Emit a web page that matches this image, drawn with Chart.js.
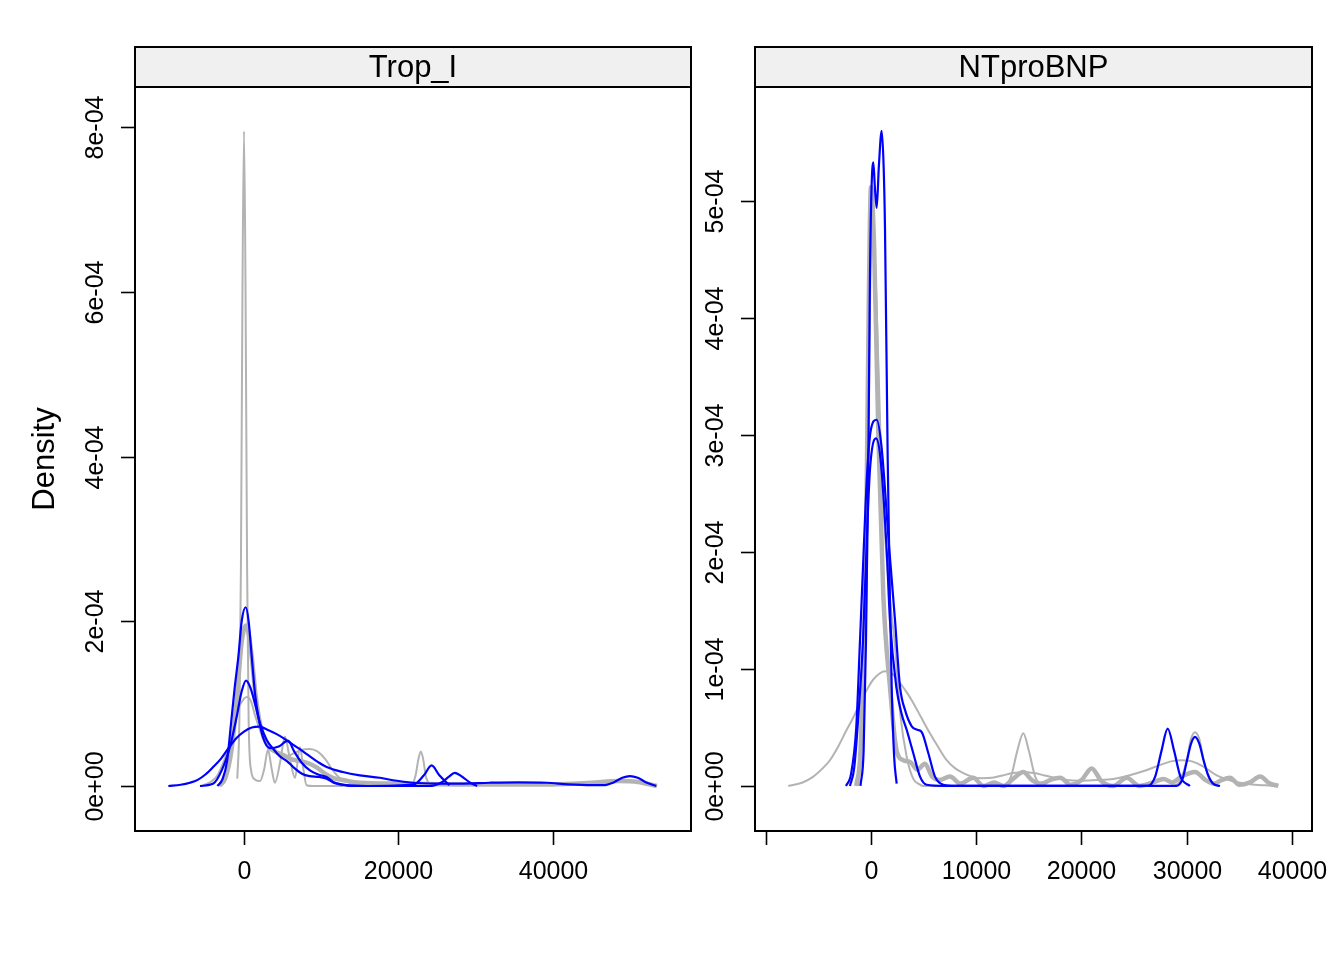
<!DOCTYPE html>
<html>
<head>
<meta charset="utf-8">
<script src="https://cdn.jsdelivr.net/npm/chart.js@4.4.1/dist/chart.umd.min.js"></script>
<style>
  html, body { margin: 0; padding: 0; background: #ffffff; }
  #wrap { position: relative; width: 1344px; height: 960px; }
  .panel { position: absolute; top: 0; height: 960px; }
  #leftPanel { left: 0; width: 700px; }
  #rightPanel { left: 700px; width: 644px; }
</style>
</head>
<body>
<div id="wrap">
  <div class="panel" id="leftPanel"><canvas id="tropChart" width="700" height="960"></canvas></div>
  <div class="panel" id="rightPanel"><canvas id="ntChart" width="644" height="960"></canvas></div>
</div>
<script>
const DENSITY_UNIT = 1e-4;

// ---- Trop_I panel ----
const tropXTicks = [0, 20000, 40000];
const tropXTickLabels = ['0', '20000', '40000'];
const tropYTicks = [0, 2e-4, 4e-4, 6e-4, 8e-4];
const tropYTickLabels = ['0e+00', '2e-04', '4e-04', '6e-04', '8e-04'];

const tropGrayNarrowX = [-870, -600, -400, -200, 0, 200, 400, 600, 900, 1400, 2070, 2600, 3100, 3600, 4000, 4700, 5300, 5900, 6600, 7250, 7700, 8100, 9000, 15000, 21600, 22200, 22600, 22900, 23200, 23600, 24300];
const tropGrayNarrowY = [0.09, 0.8, 2.65, 6.0, 7.95, 6.0, 2.65, 0.8, 0.2, 0.08, 0.06, 0.2, 0.44, 0.2, 0.04, 0.3, 0.6, 0.35, 0.1, 0.47, 0.2, 0.01, 0.0, 0.0, 0.01, 0.12, 0.33, 0.42, 0.33, 0.1, 0.01];

const tropGrayWideX = [-5700, -4500, -3500, -2500, -1600, -800, 0, 430, 900, 1420, 2200, 3370, 4500, 5520, 6500, 7500, 8500, 9500, 10500, 11500, 12500, 14000, 18000, 24000];
const tropGrayWideY = [0, 0.04, 0.12, 0.33, 0.6, 0.92, 1.06, 1.08, 1.03, 0.86, 0.65, 0.48, 0.38, 0.36, 0.4, 0.44, 0.45, 0.42, 0.33, 0.19, 0.09, 0.03, 0.0, 0.0];

const tropGrayThickX = [-3200, -2400, -1600, -900, -300, 300, 900, 1500, 2200, 3000, 4000, 5000, 6300, 7500, 8500, 9500, 10500, 11500, 13000, 15000, 20000, 30000, 40000, 45000, 48500, 51000, 53500];
const tropGrayThickY = [0, 0.1, 0.45, 1.1, 1.75, 1.95, 1.65, 1.1, 0.7, 0.5, 0.42, 0.38, 0.32, 0.3, 0.27, 0.22, 0.15, 0.1, 0.07, 0.04, 0.03, 0.02, 0.02, 0.04, 0.06, 0.05, 0.0];

const tropBlueTallX = [-3450, -2800, -2200, -1680, -1200, -730, -300, 220, 600, 1000, 1450, 1850, 2500, 3370, 4500, 5700, 6500, 7500, 8540, 9600, 10700, 11560, 13300, 16000, 22000, 23300, 24300, 25300, 26600];
const tropBlueTallY = [0, 0.08, 0.3, 0.76, 1.2, 1.57, 2.0, 2.17, 2.0, 1.57, 1.1, 0.85, 0.58, 0.46, 0.48, 0.55, 0.42, 0.28, 0.19, 0.14, 0.11, 0.05, 0.01, 0.0, 0.02, 0.13, 0.25, 0.13, 0.01];

const tropBlueMidX = [-5700, -3970, -2890, -1810, -950, -300, 260, 800, 1420, 2070, 2940, 3800, 4660, 5600, 6380, 7500, 8500, 9700, 10700, 11600, 12500, 14000, 24000, 25500, 26500, 27300, 28300, 29300, 30200];
const tropBlueMidY = [0, 0.03, 0.19, 0.48, 0.84, 1.15, 1.28, 1.2, 1.0, 0.76, 0.56, 0.45, 0.36, 0.3, 0.23, 0.15, 0.12, 0.11, 0.09, 0.04, 0.02, 0.0, 0.0, 0.04, 0.11, 0.16, 0.11, 0.04, 0.0];

const tropBlueBroadX = [-9800, -8200, -7000, -6000, -5000, -4000, -3000, -2000, -1000, 0, 1000, 2000, 3100, 4230, 5300, 6380, 7500, 8540, 9600, 10700, 12800, 15000, 17600, 19300, 21800, 25000, 28000, 31800, 35500, 39200, 42000, 45000, 46500, 47800, 49000, 50000, 51000, 52200, 53400];
const tropBlueBroadY = [0, 0.015, 0.04, 0.075, 0.14, 0.23, 0.33, 0.46, 0.58, 0.66, 0.71, 0.72, 0.68, 0.63, 0.57, 0.5, 0.43, 0.36, 0.29, 0.23, 0.17, 0.13, 0.1, 0.07, 0.04, 0.03, 0.03, 0.04, 0.045, 0.04, 0.02, 0.01, 0.01, 0.04, 0.1, 0.12, 0.1, 0.04, 0.0];

// ---- NTproBNP panel ----
const ntXTicks = [-10000, 0, 10000, 20000, 30000, 40000];
const ntXTickLabels = ['', '0', '10000', '20000', '30000', '40000'];
const ntYTicks = [0, 1e-4, 2e-4, 3e-4, 4e-4, 5e-4];
const ntYTickLabels = ['0e+00', '1e-04', '2e-04', '3e-04', '4e-04', '5e-04'];

const ntBlueDoubleX = [-1000, -700, -475, -250, -95, 50, 220, 380, 540, 750, 1015, 1200, 1330, 1585, 1800, 1965, 2200, 2440];
const ntBlueDoubleY = [0, 0.3, 1.24, 2.8, 4.38, 5.1, 5.33, 5.1, 4.94, 5.3, 5.6, 5.3, 4.77, 2.81, 1.6, 0.85, 0.25, 0.02];

const ntBlueShoulderX = [-2375, -1900, -1400, -1045, -700, -350, 0, 540, 1000, 1740, 2280, 2755, 3230, 3870, 4400, 4820, 5450, 6080, 6870, 8000, 29000, 29600, 30000, 30400, 30780, 31200, 31600, 32000, 32500, 33160];
const ntBlueShoulderY = [0, 0.1, 0.5, 1.24, 2.0, 2.7, 3.05, 3.13, 2.9, 2.02, 1.42, 0.85, 0.65, 0.51, 0.48, 0.46, 0.28, 0.08, 0.01, 0, 0, 0.06, 0.21, 0.36, 0.42, 0.36, 0.22, 0.1, 0.02, 0];

const ntBlueSmoothX = [-2000, -1600, -1200, -760, -400, -100, 475, 900, 1490, 1800, 2400, 2900, 3390, 4020, 4660, 5290, 7000, 26300, 27000, 27600, 28190, 28800, 29400, 30300];
const ntBlueSmoothY = [0, 0.15, 0.6, 1.24, 2.1, 2.7, 2.97, 2.8, 2.02, 1.42, 0.85, 0.62, 0.48, 0.28, 0.08, 0.01, 0, 0, 0.08, 0.3, 0.49, 0.3, 0.08, 0];

const ntGrayBroadX = [-7860, -6500, -5480, -4600, -3900, -3100, -2310, -1600, -1045, -400, 220, 1330, 2000, 2755, 3400, 4020, 4800, 5600, 6400, 7190, 8000, 8770, 9600, 10500, 11500, 12500, 13500, 14500, 15500, 16500, 17500, 18600, 20000, 21500, 23000, 24500, 26000, 27500, 28500, 29500, 30500, 31500, 32850, 34400, 36000, 37500, 38550];
const ntGrayBroadY = [0, 0.03, 0.08, 0.15, 0.22, 0.34, 0.48, 0.6, 0.71, 0.82, 0.91, 0.98, 0.96, 0.88, 0.8, 0.71, 0.58, 0.45, 0.33, 0.22, 0.15, 0.11, 0.08, 0.066, 0.07, 0.09, 0.11, 0.12, 0.11, 0.09, 0.07, 0.05, 0.045, 0.05, 0.06, 0.09, 0.13, 0.18, 0.21, 0.22, 0.21, 0.17, 0.09, 0.04, 0.015, 0.005, 0];

const ntGrayNarrowX = [-1200, -800, -400, 100, 500, 900, 1300, 1800, 2280, 2800, 3390, 4020, 4500, 4940, 6000, 12500, 13300, 13900, 14470, 15000, 15600, 16400, 28500, 29400, 30000, 30400, 30780, 31200, 31600, 32200, 33000];
const ntGrayNarrowY = [0, 0.6, 2.4, 4.9, 4.2, 3.0, 2.2, 1.6, 1.2, 0.6, 0.25, 0.06, 0.02, 0, 0, 0, 0.08, 0.3, 0.45, 0.3, 0.08, 0, 0, 0.05, 0.22, 0.4, 0.46, 0.4, 0.22, 0.05, 0];

const ntGrayThickX = [-1400, -1000, -475, -200, 0, 300, 700, 1170, 1800, 2440, 3070, 3800, 4400, 5130, 5800, 6500, 7500, 8500, 9700, 10700, 11700, 12600, 13500, 14470, 15300, 16200, 17000, 17960, 19000, 20000, 20970, 21900, 23000, 24300, 25500, 26800, 27800, 28600, 29500, 30780, 31800, 32600, 33300, 34100, 35000, 36000, 36960, 37900, 38700];
const ntGrayThickY = [0, 0.3, 2.02, 4.2, 5.12, 4.6, 3.0, 1.63, 0.85, 0.3, 0.22, 0.2, 0.14, 0.19, 0.08, 0.05, 0.08, 0.02, 0.07, 0.0, 0.03, 0.0, 0.06, 0.12, 0.05, 0.02, 0.05, 0.07, 0.01, 0.05, 0.15, 0.04, 0.0, 0.07, 0.0, 0.03, 0.06, 0.03, 0.08, 0.12, 0.05, 0.02, 0.05, 0.07, 0.01, 0.03, 0.08, 0.02, 0.0];

const BLUE = '#0000FF';
const GRAY = '#B3B3B3';
const FONT = '"Liberation Sans", Arial, Helvetica, sans-serif';

function toPoints(xs, ys) {
    return xs.map((x, i) => ({ x: x, y: ys[i] * DENSITY_UNIT }));
}

function curve(xs, ys, color, width) {
    return {
        data: toPoints(xs, ys),
        borderColor: color,
        borderWidth: width,
        pointRadius: 0,
        fill: false,
        cubicInterpolationMode: 'monotone'
    };
}

// lattice style frame: strip, box, outward ticks, rotated y labels
const latticeFrame = {
    id: 'latticeFrame',
    afterDraw(chart, args, opts) {
        const ctx = chart.ctx;
        const area = chart.chartArea;
        const xs = chart.scales.x;
        const ys = chart.scales.y;
        const stripTop = 47;
        const tick = 14;

        ctx.save();
        // strip
        ctx.fillStyle = '#F0F0F0';
        ctx.fillRect(area.left, stripTop, area.right - area.left, area.top - stripTop);
        ctx.strokeStyle = '#000000';
        ctx.lineWidth = 2;
        ctx.strokeRect(area.left, stripTop, area.right - area.left, area.top - stripTop);
        ctx.strokeRect(area.left, area.top, area.right - area.left, area.bottom - area.top);

        ctx.fillStyle = '#000000';
        ctx.font = '31px ' + FONT;
        ctx.textAlign = 'center';
        ctx.textBaseline = 'middle';
        ctx.fillText(opts.strip, (area.left + area.right) / 2, (stripTop + area.top) / 2 + 1);

        // x axis
        ctx.font = '25px ' + FONT;
        ctx.lineWidth = 1.6;
        opts.xTicks.forEach((v, i) => {
            const px = Math.round(xs.getPixelForValue(v)) + 0.5;
            ctx.beginPath();
            ctx.moveTo(px, area.bottom);
            ctx.lineTo(px, area.bottom + tick);
            ctx.stroke();
            if (opts.xLabels[i]) ctx.fillText(opts.xLabels[i], px, 872);
        });

        // y axis
        opts.yTicks.forEach((v, i) => {
            const py = Math.round(ys.getPixelForValue(v)) + 0.5;
            ctx.beginPath();
            ctx.moveTo(area.left - tick, py);
            ctx.lineTo(area.left, py);
            ctx.stroke();
            ctx.save();
            ctx.translate(area.left - 39, py);
            ctx.rotate(-Math.PI / 2);
            ctx.fillText(opts.yLabels[i], 0, 0);
            ctx.restore();
        });

        if (opts.yTitle) {
            ctx.save();
            ctx.font = '31px ' + FONT;
            ctx.translate(45, (area.top + area.bottom) / 2);
            ctx.rotate(-Math.PI / 2);
            ctx.fillText(opts.yTitle, 0, 0);
            ctx.restore();
        }
        ctx.restore();
    }
};

function makePanel(canvasId, datasets, xRange, yRange, padding, frame) {
    return new Chart(document.getElementById(canvasId), {
        type: 'line',
        data: { datasets: datasets },
        options: {
            responsive: false,
            animation: false,
            devicePixelRatio: 1,
            layout: { padding: padding },
            plugins: {
                legend: { display: false },
                tooltip: { enabled: false },
                latticeFrame: frame
            },
            scales: {
                x: { type: 'linear', min: xRange[0], max: xRange[1], display: false },
                y: { type: 'linear', min: yRange[0], max: yRange[1], display: false }
            }
        },
        plugins: [latticeFrame]
    });
}

// first dataset is drawn on top, so blue curves come first
makePanel('tropChart', [
    curve(tropBlueTallX, tropBlueTallY, BLUE, 2.2),
    curve(tropBlueMidX, tropBlueMidY, BLUE, 2.2),
    curve(tropBlueBroadX, tropBlueBroadY, BLUE, 2.2),
    curve(tropGrayNarrowX, tropGrayNarrowY, GRAY, 2),
    curve(tropGrayWideX, tropGrayWideY, GRAY, 2),
    curve(tropGrayThickX, tropGrayThickY, GRAY, 4.5)
], [-14120, 57900], [-0.546e-4, 8.486e-4],
   { left: 135, right: 9, top: 87, bottom: 129 },
   { strip: 'Trop_I', xTicks: tropXTicks, xLabels: tropXTickLabels, yTicks: tropYTicks, yLabels: tropYTickLabels, yTitle: 'Density' });

makePanel('ntChart', [
    curve(ntBlueDoubleX, ntBlueDoubleY, BLUE, 2.2),
    curve(ntBlueShoulderX, ntBlueShoulderY, BLUE, 2.2),
    curve(ntBlueSmoothX, ntBlueSmoothY, BLUE, 2.2),
    curve(ntGrayNarrowX, ntGrayNarrowY, GRAY, 2),
    curve(ntGrayBroadX, ntGrayBroadY, GRAY, 2),
    curve(ntGrayThickX, ntGrayThickY, GRAY, 4.5)
], [-11020, 41900], [-0.385e-4, 5.974e-4],
   { left: 55, right: 32, top: 87, bottom: 129 },
   { strip: 'NTproBNP', xTicks: ntXTicks, xLabels: ntXTickLabels, yTicks: ntYTicks, yLabels: ntYTickLabels, yTitle: '' });
</script>
</body>
</html>
